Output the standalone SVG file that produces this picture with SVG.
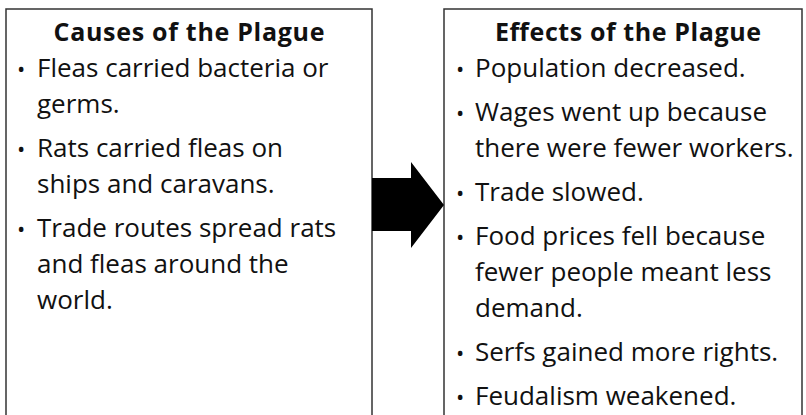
<svg xmlns="http://www.w3.org/2000/svg" width="806" height="415" viewBox="0 0 806 415">
<style>
.box{fill:#fff;stroke:#333;stroke-width:1.5}
.title{font-family:"Open Sans","Liberation Sans",sans-serif;font-weight:bold;font-size:25px;fill:#111;text-anchor:middle}
.body{font-family:"Open Sans","Liberation Sans",sans-serif;font-size:26px;fill:#111}
.bul{font-size:22px}
.arrow{fill:#000}
</style>
<rect width="806" height="415" fill="#fff"/>
<g id="causes">
<rect class="box" x="6" y="9" width="366" height="420"/>
<text class="title" x="189" y="41" textLength="271" lengthAdjust="spacing">Causes of the Plague</text>
<text class="body"><tspan class="bul" x="17" y="77">•</tspan><tspan x="37" y="77">Fleas carried bacteria or</tspan><tspan x="37" y="113">germs.</tspan></text>
<text class="body"><tspan class="bul" x="17" y="157">•</tspan><tspan x="37" y="157">Rats carried fleas on</tspan><tspan x="37" y="193">ships and caravans.</tspan></text>
<text class="body"><tspan class="bul" x="17" y="237">•</tspan><tspan x="37" y="237">Trade routes spread rats</tspan><tspan x="37" y="273">and fleas around the</tspan><tspan x="37" y="309">world.</tspan></text>
</g>
<g id="effects">
<rect class="box" x="444" y="9" width="358" height="420"/>
<text class="title" x="628" y="41" textLength="266" lengthAdjust="spacing">Effects of the Plague</text>
<text class="body"><tspan class="bul" x="456" y="77">•</tspan><tspan x="475" y="77">Population decreased.</tspan></text>
<text class="body"><tspan class="bul" x="456" y="121">•</tspan><tspan x="475" y="121">Wages went up because</tspan><tspan x="475" y="157">there were fewer workers.</tspan></text>
<text class="body"><tspan class="bul" x="456" y="201">•</tspan><tspan x="475" y="201">Trade slowed.</tspan></text>
<text class="body"><tspan class="bul" x="456" y="245">•</tspan><tspan x="475" y="245">Food prices fell because</tspan><tspan x="475" y="281">fewer people meant less</tspan><tspan x="475" y="317">demand.</tspan></text>
<text class="body"><tspan class="bul" x="456" y="361">•</tspan><tspan x="475" y="361">Serfs gained more rights.</tspan></text>
<text class="body"><tspan class="bul" x="456" y="405">•</tspan><tspan x="475" y="405">Feudalism weakened.</tspan></text>
</g>
<g id="connectors">
<polygon class="arrow" points="372,178 411,178 411,162 444,205 411,248 411,231 372,231"/>
</g>
</svg>
